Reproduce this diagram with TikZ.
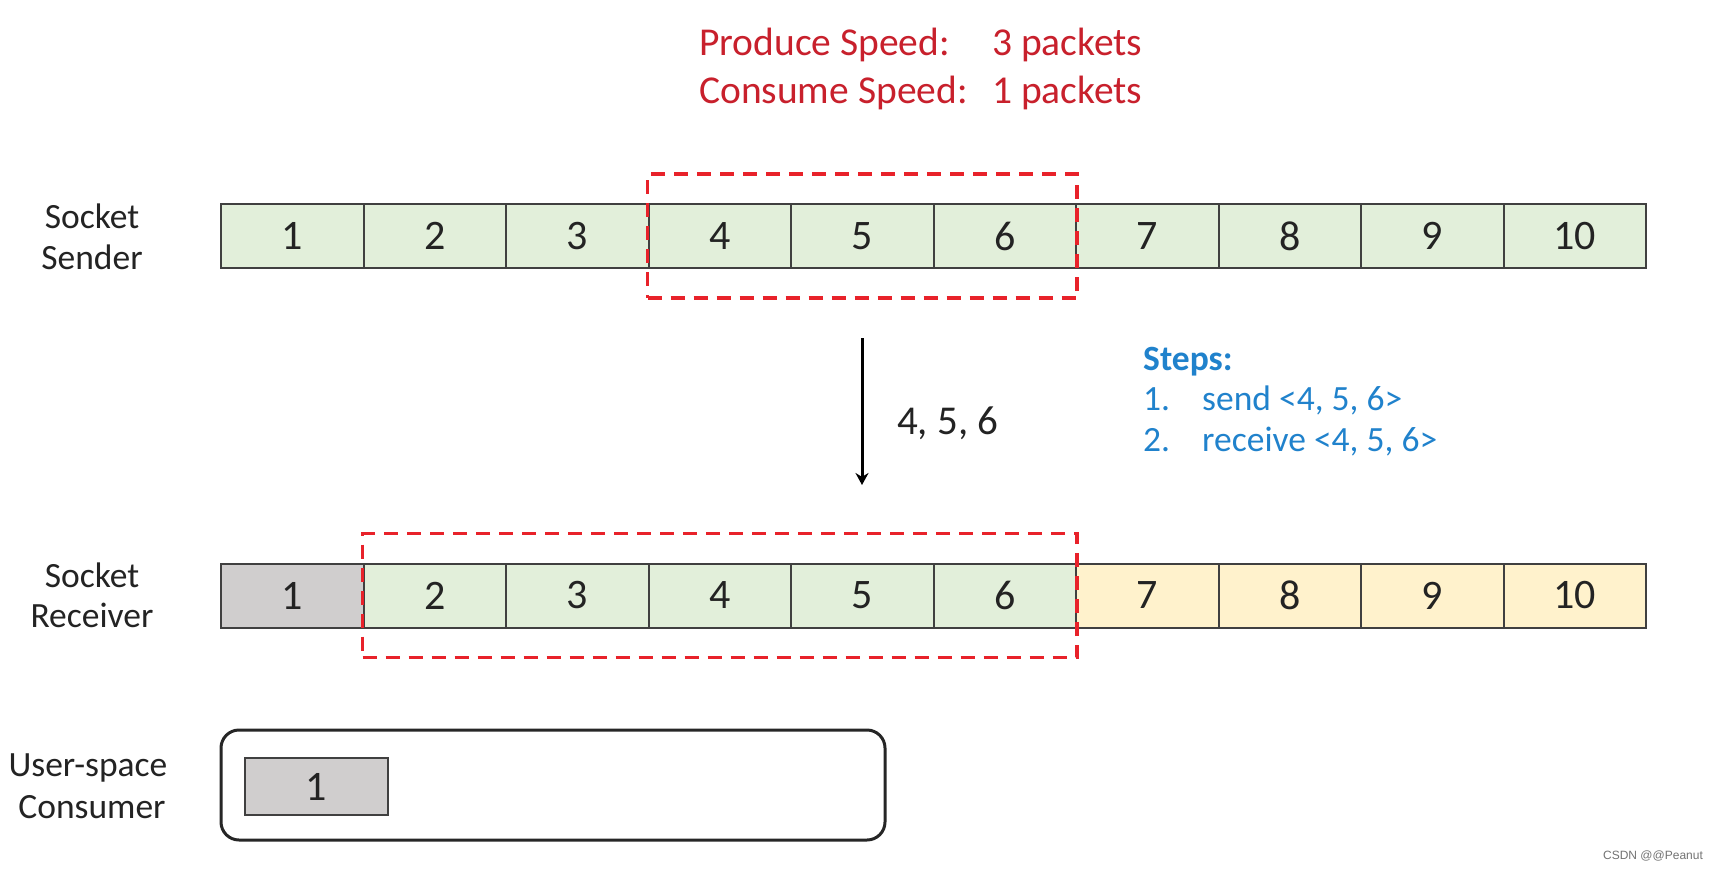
\documentclass[tikz,border=0pt]{standalone}
\usepackage{fontspec}
\setmainfont{Carlito}
\newfontfamily\wmfont{Liberation Sans}
\usetikzlibrary{fit,arrows.meta}
\definecolor{cellgreen}{RGB}{226,239,218}
\definecolor{cellgrey}{RGB}{208,206,206}
\definecolor{cellyellow}{RGB}{255,242,204}
\definecolor{cellborder}{RGB}{64,64,64}
\definecolor{dashred}{RGB}{232,34,42}
\definecolor{titlered}{RGB}{200,32,44}
\definecolor{stepblue}{RGB}{32,130,204}
\definecolor{txt}{RGB}{35,35,35}
\begin{document}
\begin{tikzpicture}[x=1pt,y=-1pt,
  cell/.style={draw=cellborder, line width=2pt, minimum width=142.5pt, minimum height=64pt,
    inner sep=0pt, text=txt, font=\fontsize{42}{50}\selectfont},
  reddash/.style={draw=dashred, line width=3.5pt, dash pattern=on 14pt off 9pt, inner xsep=0pt, inner ysep=29pt},
  lab/.style={anchor=base, text=txt, inner sep=0pt, font=\fontsize{35.5}{42}\selectfont},
  title/.style={anchor=base west, text=titlered, inner sep=0pt, font=\fontsize{39.5}{46}\selectfont},
  steps/.style={anchor=base west, text=stepblue, inner sep=0pt, font=\fontsize{35.5}{40}\selectfont},
  arrowline/.style={line width=3pt, draw=black, -{Stealth[length=12pt,width=13pt]}}
]
\useasboundingbox[fill=white] (0,0) rectangle (1718,870);

% title
\node[title] (t1a) at (699,55) {Produce Speed:};
\node[title] (t1b) at (992,55) {3 packets};
\node[title] (t2a) at (699,103) {Consume Speed:};
\node[title] (t2b) at (992,103) {1 packets};

% sender row
\foreach \i in {1,...,10}
  \node[cell, fill=cellgreen] (s\i) at ({221+142.5*(\i-0.5)},236) {\i};
\node[lab] (ls1) at (92,228) {Socket};
\node[lab] (ls2) at (92,269) {Sender};
\node[reddash, fit=(s4)(s6)] (sw) {};

% receiver row
\foreach \i/\c in {1/cellgrey,2/cellgreen,3/cellgreen,4/cellgreen,5/cellgreen,6/cellgreen,7/cellyellow,8/cellyellow,9/cellyellow,10/cellyellow}
  \node[cell, fill=\c] (r\i) at ({221+142.5*(\i-0.5)},595.5) {\i};
\node[lab] (lr1) at (92,587) {Socket};
\node[lab] (lr2) at (92,627) {Receiver};
\node[reddash, fit=(r2)(r6)] (rw) {};

% arrow
\coordinate (atop) at (862,338);
\coordinate (abot) at (862,485);
\draw[arrowline] (atop) -- (abot);
\node[anchor=base west, inner sep=0pt, text=txt, font=\fontsize{41}{48}\selectfont] (alab) at (897,434) {4, 5, 6};

% steps
\node[steps, font=\bfseries\fontsize{35.5}{40}\selectfont] (st0) at (1143,370) {Steps:};
\node[steps] (st1n) at (1143,410) {1.};
\node[steps] (st1) at (1202,410) {send <4, 5, 6>};
\node[steps] (st2n) at (1143,451) {2.};
\node[steps] (st2) at (1202,451) {receive <4, 5, 6>};

% consumer
\node[draw=black!85, line width=3pt, rounded corners=18pt, minimum width=664pt, minimum height=110pt, inner sep=0pt] (cons) at (553,785) {};
\node[cell, fill=cellgrey, minimum width=143pt, minimum height=57pt] (c1) at (316.5,786.5) {1};
\node[lab] (lc1) at (88,776) {User-space};
\node[lab] (lc2) at (92,818) {Consumer};

% watermark
\node[text=black!55, inner sep=0pt, font=\wmfont\fontsize{12}{14}\selectfont] (wm) at (1653,856) {CSDN @@Peanut};
\end{tikzpicture}
\end{document}
